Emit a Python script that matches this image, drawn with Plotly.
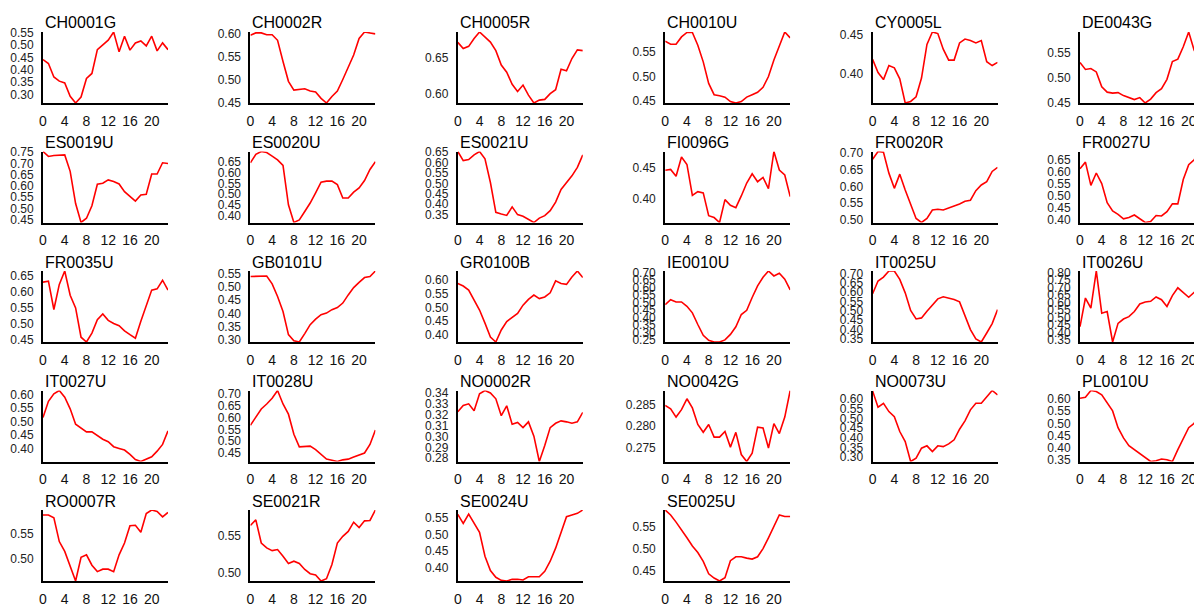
import plotly.graph_objects as go

hours = list(range(24))

stations = ["CH0001G", "CH0002R", "CH0005R", "CH0010U", "CY0005L", "DE0043G",
            "ES0019U", "ES0020U", "ES0021U", "FI0096G", "FR0020R", "FR0027U",
            "FR0035U", "GB0101U", "GR0100B", "IE0010U", "IT0025U", "IT0026U",
            "IT0027U", "IT0028U", "NO0002R", "NO0042G", "NO0073U", "PL0010U",
            "RO0007R", "SE0021R", "SE0024U", "SE0025U"]

CH0001G = [0.441, 0.425, 0.371, 0.354, 0.347, 0.293, 0.266, 0.290, 0.365, 0.385, 0.481, 0.500,
           0.519, 0.552, 0.472, 0.535, 0.479, 0.508, 0.516, 0.496, 0.535, 0.476, 0.508, 0.481]
CH0002R = [0.596, 0.601, 0.601, 0.597, 0.597, 0.585, 0.539, 0.496, 0.477, 0.478, 0.480, 0.475,
           0.473, 0.459, 0.449, 0.463, 0.475, 0.500, 0.525, 0.553, 0.589, 0.603, 0.601, 0.599]
CH0005R = [0.6715, 0.663, 0.666, 0.677, 0.686, 0.679, 0.672, 0.660, 0.640, 0.630, 0.613, 0.603,
           0.612, 0.598, 0.587, 0.591, 0.592, 0.600, 0.6056, 0.634, 0.632, 0.649, 0.661, 0.660]
CH0010U = [0.572, 0.566, 0.566, 0.581, 0.590, 0.590, 0.564, 0.530, 0.486, 0.463, 0.461, 0.458,
           0.449, 0.446, 0.449, 0.458, 0.463, 0.468, 0.478, 0.500, 0.534, 0.561, 0.591, 0.579]
CY0005L = [0.418, 0.401, 0.392, 0.410, 0.407, 0.393, 0.362, 0.364, 0.370, 0.394, 0.437, 0.453,
           0.451, 0.431, 0.417, 0.417, 0.439, 0.444, 0.442, 0.439, 0.442, 0.415, 0.410, 0.414]
DE0043G = [0.531, 0.517, 0.519, 0.512, 0.482, 0.471, 0.469, 0.470, 0.464, 0.460, 0.456, 0.460,
           0.449, 0.457, 0.470, 0.478, 0.497, 0.533, 0.538, 0.563, 0.593, 0.556, 0.540, 0.548]
ES0019U = [0.753, 0.731, 0.735, 0.735, 0.738, 0.665, 0.522, 0.438, 0.457, 0.512, 0.608, 0.612,
           0.627, 0.620, 0.609, 0.575, 0.553, 0.533, 0.560, 0.563, 0.653, 0.653, 0.703, 0.700]
ES0020U = [0.645, 0.684, 0.697, 0.692, 0.676, 0.658, 0.633, 0.451, 0.369, 0.381, 0.420, 0.459,
           0.506, 0.555, 0.560, 0.560, 0.544, 0.482, 0.482, 0.509, 0.529, 0.563, 0.614, 0.650]
ES0021U = [0.653, 0.609, 0.614, 0.637, 0.653, 0.618, 0.504, 0.361, 0.353, 0.346, 0.387, 0.350,
           0.342, 0.325, 0.312, 0.333, 0.345, 0.369, 0.410, 0.471, 0.504, 0.536, 0.577, 0.637]
FI0096G = [0.4457, 0.447, 0.436, 0.467, 0.455, 0.405, 0.411, 0.409, 0.372, 0.369, 0.361, 0.398,
           0.389, 0.385, 0.404, 0.425, 0.440, 0.427, 0.434, 0.416, 0.476, 0.446, 0.438, 0.403]
FR0020R = [0.680, 0.703, 0.701, 0.639, 0.594, 0.636, 0.589, 0.545, 0.505, 0.493, 0.505, 0.530,
           0.532, 0.530, 0.535, 0.542, 0.548, 0.556, 0.559, 0.587, 0.604, 0.614, 0.644, 0.656]
FR0027U = [0.612, 0.639, 0.543, 0.594, 0.550, 0.471, 0.437, 0.423, 0.404, 0.410, 0.420, 0.403,
           0.389, 0.393, 0.418, 0.416, 0.434, 0.466, 0.466, 0.567, 0.628, 0.649, 0.683, 0.670]
FR0035U = [0.631, 0.634, 0.545, 0.624, 0.666, 0.590, 0.550, 0.458, 0.443, 0.471, 0.513, 0.531,
           0.511, 0.501, 0.494, 0.478, 0.466, 0.455, 0.508, 0.557, 0.606, 0.610, 0.637, 0.606]
GB0101U = [0.540, 0.540, 0.541, 0.542, 0.512, 0.464, 0.407, 0.319, 0.296, 0.291, 0.323, 0.357,
           0.378, 0.395, 0.401, 0.414, 0.422, 0.439, 0.470, 0.498, 0.518, 0.536, 0.540, 0.561]
GR0100B = [0.588, 0.579, 0.564, 0.530, 0.491, 0.443, 0.392, 0.374, 0.418, 0.449, 0.463, 0.479,
           0.509, 0.530, 0.546, 0.533, 0.539, 0.554, 0.598, 0.588, 0.585, 0.612, 0.634, 0.610]
IE0010U = [0.486, 0.519, 0.504, 0.504, 0.475, 0.431, 0.353, 0.281, 0.247, 0.236, 0.236, 0.250,
           0.287, 0.338, 0.420, 0.448, 0.534, 0.612, 0.669, 0.711, 0.678, 0.696, 0.656, 0.585]
IT0025U = [0.591, 0.659, 0.680, 0.7125, 0.7125, 0.668, 0.596, 0.502, 0.457, 0.4625, 0.498, 0.534,
           0.564, 0.575, 0.570, 0.561, 0.548, 0.475, 0.400, 0.350, 0.334, 0.382, 0.432, 0.507]
IT0026U = [0.440, 0.631, 0.564, 0.811, 0.530, 0.541, 0.338, 0.462, 0.491, 0.507, 0.541, 0.591,
           0.604, 0.609, 0.638, 0.620, 0.575, 0.647, 0.699, 0.669, 0.636, 0.669, 0.690, 0.710]
IT0027U = [0.516, 0.576, 0.604, 0.616, 0.591, 0.548, 0.491, 0.475, 0.4625, 0.4625, 0.450, 0.435,
           0.426, 0.4075, 0.401, 0.395, 0.379, 0.360, 0.3525, 0.360, 0.370, 0.391, 0.416, 0.466]
IT0028U = [0.567, 0.600, 0.636, 0.657, 0.681, 0.714, 0.657, 0.614, 0.529, 0.476, 0.479, 0.479,
           0.464, 0.443, 0.424, 0.419, 0.414, 0.421, 0.424, 0.433, 0.443, 0.450, 0.486, 0.547]
NO0002R = [0.3226, 0.3282, 0.3298, 0.3235, 0.3390, 0.3420, 0.3397, 0.3344, 0.3189, 0.3280, 0.3111, 0.3127,
           0.3080, 0.3133, 0.3002, 0.2770, 0.2916, 0.3080, 0.3120, 0.3142, 0.3133, 0.3120, 0.3133, 0.3220]
NO0042G = [0.2848, 0.2840, 0.2821, 0.2838, 0.2863, 0.2842, 0.2804, 0.2786, 0.2804, 0.2775, 0.2775, 0.2788,
           0.2752, 0.2786, 0.2735, 0.2719, 0.2738, 0.2798, 0.2796, 0.2750, 0.2806, 0.2783, 0.2821, 0.2882]
NO0073U = [0.643, 0.559, 0.579, 0.536, 0.510, 0.433, 0.381, 0.278, 0.295, 0.347, 0.359, 0.329,
           0.359, 0.355, 0.369, 0.390, 0.445, 0.488, 0.545, 0.579, 0.579, 0.614, 0.645, 0.622]
PL0010U = [0.603, 0.607, 0.635, 0.631, 0.617, 0.582, 0.551, 0.482, 0.440, 0.408, 0.392, 0.378,
           0.361, 0.343, 0.346, 0.353, 0.350, 0.343, 0.392, 0.440, 0.482, 0.500, 0.550, 0.600]
RO0007R = [0.588, 0.588, 0.582, 0.534, 0.514, 0.483, 0.454, 0.502, 0.507, 0.486, 0.473, 0.478,
           0.478, 0.473, 0.507, 0.531, 0.566, 0.567, 0.553, 0.591, 0.598, 0.595, 0.584, 0.593]
SE0021R = [0.5633, 0.5708, 0.5398, 0.5332, 0.5296, 0.5310, 0.5221, 0.5124, 0.5155, 0.5124, 0.5044, 0.4987,
           0.4969, 0.4889, 0.4920, 0.5110, 0.5398, 0.5487, 0.5553, 0.5677, 0.5606, 0.5695, 0.5700, 0.5840]
SE0024U = [0.5599, 0.533, 0.561, 0.533, 0.5066, 0.435, 0.392, 0.372, 0.363, 0.361, 0.366, 0.366,
           0.364, 0.3735, 0.3735, 0.3735, 0.390, 0.420, 0.459, 0.504, 0.553, 0.558, 0.563, 0.573]
SE0025U = [0.5865, 0.5755, 0.5595, 0.5427, 0.5245, 0.5062, 0.4916, 0.472, 0.4442, 0.4347, 0.4281, 0.4354,
           0.4734, 0.4821, 0.4821, 0.4792, 0.477, 0.4821, 0.5004, 0.5245, 0.55, 0.5755, 0.5719, 0.5719]

series = [CH0001G, CH0002R, CH0005R, CH0010U, CY0005L, DE0043G,
          ES0019U, ES0020U, ES0021U, FI0096G, FR0020R, FR0027U,
          FR0035U, GB0101U, GR0100B, IE0010U, IT0025U, IT0026U,
          IT0027U, IT0028U, NO0002R, NO0042G, NO0073U, PL0010U,
          RO0007R, SE0021R, SE0024U, SE0025U]

# y tick step per panel
y_tick_step = [0.05] * 28
y_tick_step[20] = 0.01   # NO0002R
y_tick_step[21] = 0.005  # NO0042G

x_tick_vals = [0, 4, 8, 12, 16, 20]

# ---- layout geometry (page pixels; page margin removed) ----
W, H = 1194, 605
col_x = [43 + 207.4 * c for c in range(6)]
row_top = [32 + 119.5 * r for r in range(5)]
PW, PH = 125.0, 71.0

fig = go.Figure()
layout = dict(width=W, height=H, margin=dict(l=0, r=0, t=0, b=0, autoexpand=False),
              paper_bgcolor="white", plot_bgcolor="white", showlegend=False,
              font=dict(family="Liberation Sans, Arial, sans-serif", color="#222"))
annotations = []

for i, (name, vals) in enumerate(zip(stations, series)):
    r, c = divmod(i, 6)
    k = "" if i == 0 else str(i + 1)
    x0 = col_x[c]
    x1 = x0 + PW
    xmax = 23.0
    if x1 > W:               # last column runs past the right edge of the page
        xmax = 23.0 * (W - x0) / PW
        x1 = W
    top = row_top[r]
    ymin, ymax = min(vals), max(vals)
    step = y_tick_step[i]
    n = int(round(ymin / step - 0.5 + 1e-9))
    tv = []
    while n * step <= ymax + 1e-9:
        if n * step >= ymin - 1e-9:
            tv.append(round(n * step, 4))
        n += 1
    dec = 3 if step < 0.01 else 2
    fig.add_trace(go.Scatter(x=hours, y=vals, mode="lines",
                             line=dict(color="#ff0000", width=1.6),
                             xaxis="x" + k, yaxis="y" + k, hoverinfo="skip"))
    layout["xaxis" + k] = dict(domain=[x0 / W, x1 / W], range=[0, xmax], anchor="y" + k,
                               automargin=False, ticklabeloverflow="allow",
                               showline=True, linecolor="black", linewidth=2,
                               showgrid=False, zeroline=False, ticks="",
                               tickvals=x_tick_vals, ticklabelstandoff=4,
                               tickfont=dict(size=14, color="#111"))
    layout["yaxis" + k] = dict(domain=[1 - (top + PH) / H, 1 - top / H], range=[ymin, ymax],
                               anchor="x" + k, automargin=False, ticklabeloverflow="allow",
                               showline=True, linecolor="black", linewidth=2,
                               showgrid=False, zeroline=False, ticks="",
                               tickvals=tv, ticktext=[f"{v:.{dec}f}" for v in tv],
                               ticklabelstandoff=5,
                               tickfont=dict(size=12, color="#222"))
    annotations.append(dict(text=name, x=x0 / W, y=1 - (top - 9) / H,
                            xref="paper", yref="paper", xanchor="left", yanchor="middle",
                            showarrow=False, font=dict(size=16, color="black")))

layout["annotations"] = annotations
fig.update_layout(**layout)
fig.write_html("out.html", config={"displayModeBar": False},
               post_script="document.body.style.margin='0';document.body.style.overflow='hidden';")
